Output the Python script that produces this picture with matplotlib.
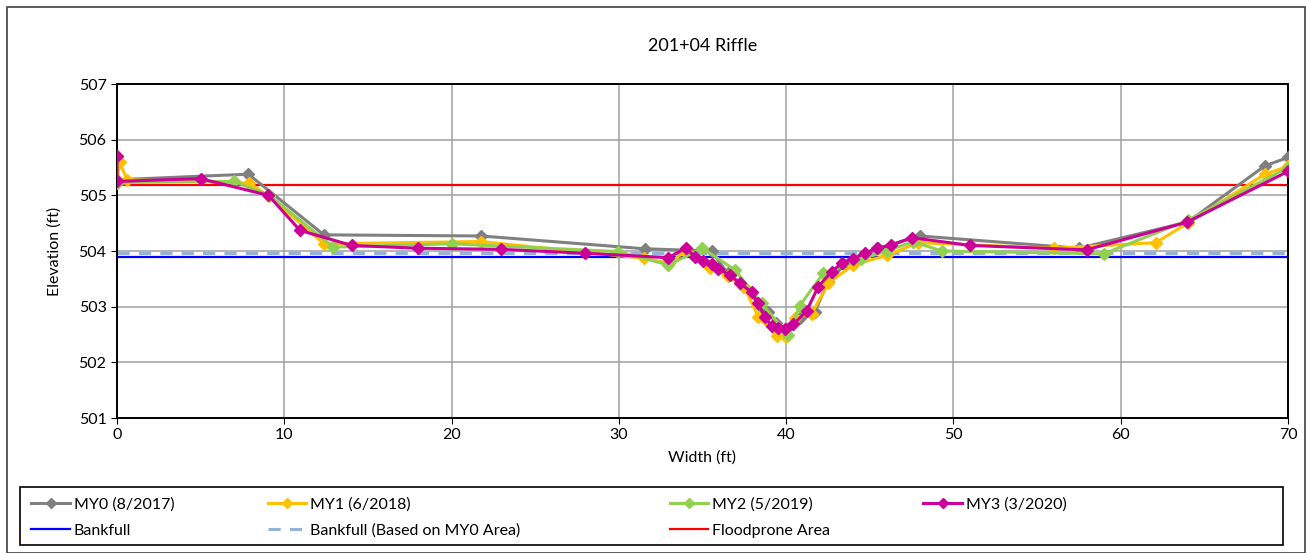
import matplotlib.pyplot as plt
from matplotlib.patches import Rectangle

plt.rcParams['font.family'] = ['Lato', 'DejaVu Sans']

# Cross-section survey, station 201+04 riffle (width ft, elevation ft)
my0_x = [0, 7.85, 12.37, 21.76, 31.56, 35.54, 36.5, 37.5, 38.5, 38.93, 39.4, 40.0,
         40.8, 41.72, 42.5, 43.5, 44.5, 45.5, 48.0, 57.5, 64.0, 68.62, 70.0]
my0_y = [505.28, 505.38, 504.29, 504.27, 504.04, 504.0, 503.6, 503.35, 503.0, 502.91, 502.7, 502.6,
         502.8, 502.91, 503.45, 503.75, 503.9, 504.05, 504.27, 504.05, 504.52, 505.53, 505.68]

my1_x = [0, 0.15, 0.6, 7.89, 9.1, 12.37, 21.74, 31.5, 33.0, 34.0, 35.45, 36.5, 37.5, 38.33,
         39.43, 39.97, 40.53, 41.52, 42.52, 44.0, 46.0, 47.9, 56.0, 62.1, 64.0, 68.62, 70.0]
my1_y = [505.22, 505.6, 505.28, 505.22, 504.98, 504.13, 504.17, 503.87, 503.78, 504.0, 503.7, 503.55,
         503.35, 502.82, 502.47, 502.45, 502.8, 502.87, 503.42, 503.75, 503.92, 504.15, 504.05, 504.15,
         504.5, 505.38, 505.52]

my2_x = [0, 7.0, 9.1, 12.93, 20.0, 29.97, 32.96, 35.0, 36.94, 38.53, 40.12, 40.82, 42.22,
         44.5, 46.0, 47.6, 49.29, 59.0, 64.0, 70.0]
my2_y = [505.23, 505.25, 505.0, 504.07, 504.13, 503.99, 503.75, 504.05, 503.66, 503.06, 502.49, 503.02,
         503.6, 503.85, 504.0, 504.17, 504.0, 503.95, 504.55, 505.5]

my3_x = [0, 0, 5.0, 9.05, 10.94, 14.03, 17.97, 22.95, 27.97, 32.96, 33.99, 34.55, 35.05, 35.55,
         35.94, 36.64, 37.24, 37.94, 38.33, 38.73, 39.13, 39.53, 39.93, 40.43, 41.22, 41.92, 42.72,
         43.32, 44.01, 44.71, 45.41, 46.25, 47.5, 51.0, 57.96, 63.98, 70.0]
my3_y = [505.71, 505.25, 505.3, 505.0, 504.37, 504.1, 504.05, 504.03, 503.96, 503.88, 504.05, 503.9,
         503.82, 503.76, 503.68, 503.57, 503.42, 503.26, 503.06, 502.82, 502.65, 502.62, 502.6, 502.68,
         502.92, 503.36, 503.63, 503.78, 503.86, 503.96, 504.05, 504.1, 504.24, 504.1, 504.02, 504.52,
         505.43]

bankfull = 503.89
bankfull_my0 = 503.96
floodprone = 505.19

surveys = [
    ('MY0 (8/2017)', my0_x, my0_y, '#808080'),
    ('MY1 (6/2018)', my1_x, my1_y, '#ffc000'),
    ('MY2 (5/2019)', my2_x, my2_y, '#92d050'),
    ('MY3 (3/2020)', my3_x, my3_y, '#cc0099'),
]


def do_plot():
    fig = plt.figure(figsize=(13.06, 5.53), dpi=100)
    ax = fig.add_axes([0.0896, 0.2441, 0.8966, 0.6040])

    handles = []
    for name, xs, ys, color in surveys:
        h, = ax.plot(xs, ys, '-D', color=color, lw=2.2, markersize=6, label=name, zorder=3)
        handles.append(h)
    h_bf = ax.axhline(bankfull, color='#0000ff', lw=1.6, label='Bankfull', zorder=2)
    h_bf0 = ax.axhline(bankfull_my0, color='#95b3d7', lw=2.2, ls=(0, (4, 3)),
                       label='Bankfull (Based on MY0 Area)', zorder=2)
    h_fp = ax.axhline(floodprone, color='#ff0000', lw=1.6, label='Floodprone Area', zorder=2)

    ax.set_xlim(0, 70)
    ax.set_ylim(501, 507)
    ax.set_xticks(range(0, 71, 10))
    ax.set_yticks(range(501, 508))
    ax.grid(True, color='#a0a0a0', lw=1.1)
    ax.set_axisbelow(True)
    for s in ax.spines.values():
        s.set_color('black')
        s.set_linewidth(1.4)
    ax.tick_params(labelsize=11.5, length=4, direction='out')
    ax.set_xlabel('Width (ft)', fontsize=11.5, labelpad=6)
    ax.set_ylabel('Elevation (ft)', fontsize=11.5, labelpad=12)
    ax.set_title('201+04 Riffle', fontsize=13, pad=24)

    # legend, laid out in columns like the spreadsheet version
    cols = [
        (0.024, [handles[0], h_bf]),
        (0.205, [handles[1], h_bf0]),
        (0.513, [handles[2], h_fp]),
        (0.707, [handles[3]]),
    ]
    for x0, hs in cols:
        fig.legend(handles=hs, loc='upper left', bbox_to_anchor=(x0, 0.101),
                   frameon=False, fontsize=11.5, handlelength=2.4, handletextpad=0.25,
                   labelspacing=0.75, borderaxespad=0, borderpad=0, markerscale=0.85)
    fig.patches.append(Rectangle((0.0153, 0.015), 0.967, 0.104, transform=fig.transFigure,
                                 fill=False, edgecolor='black', lw=1.2))
    fig.patches.append(Rectangle((0.0054, 0.0), 0.994, 0.9874, transform=fig.transFigure,
                                 fill=False, edgecolor='#404040', lw=1.2))

    fig.savefig('out.png', dpi=100)


if __name__ == '__main__':
    do_plot()
